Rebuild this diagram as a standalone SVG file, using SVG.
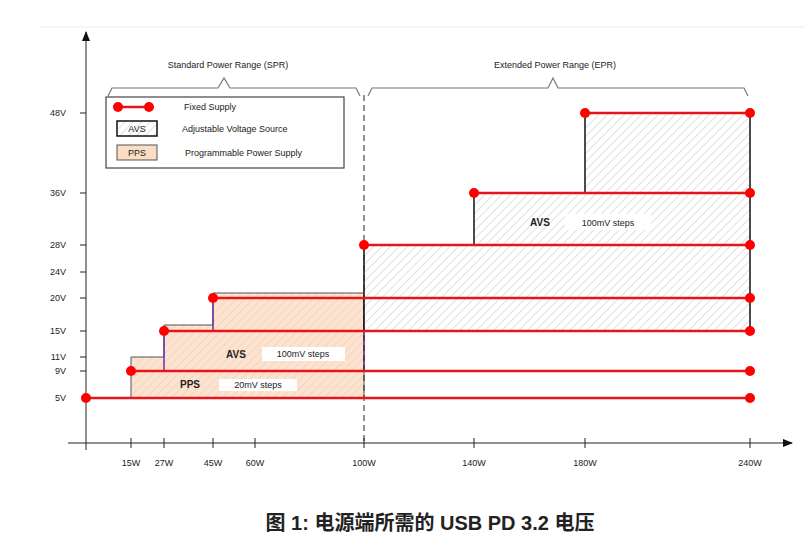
<svg xmlns="http://www.w3.org/2000/svg" width="805" height="553" viewBox="0 0 805 553">
<style>
text{font-family:"Liberation Sans",Arial,sans-serif;fill:#222}
.s{font-size:9px}
.lab{font-size:9px;text-anchor:middle}
.b{font-weight:bold;font-size:10px}
.fx{stroke:#e8141c;stroke-width:2.5;fill:none}
.dot{fill:#f00}
.ax{stroke:#222;stroke-width:1;fill:none}
.br{stroke:#777;stroke-width:1.2;fill:none}
</style>
<defs>
<pattern id="hg" width="6" height="6" patternUnits="userSpaceOnUse" patternTransform="rotate(45)"><rect width="6" height="6" fill="#fff"/><line x1="0" y1="0" x2="0" y2="6" stroke="#ccc" stroke-width="1.2"/></pattern>
<pattern id="ho" width="6" height="6" patternUnits="userSpaceOnUse" patternTransform="rotate(45)"><rect width="6" height="6" fill="#fce3d0"/><line x1="0" y1="0" x2="0" y2="6" stroke="#f0cbb0" stroke-width="1.2"/></pattern>
<marker id="ar" markerWidth="10" markerHeight="10" refX="9" refY="5" orient="auto" markerUnits="userSpaceOnUse"><path d="M0,1 L10,5 L0,9 z" fill="#111"/></marker>
</defs>
<rect width="805" height="553" fill="#fff"/>
<line x1="40" y1="27" x2="805" y2="27" stroke="#eee"/>
<g id="axes">
<line class="ax" x1="86" y1="450" x2="86" y2="32" marker-end="url(#ar)"/>
<line class="ax" x1="68" y1="443" x2="792" y2="443" marker-end="url(#ar)"/>
<g stroke="#222"><line x1="131" y1="438" x2="131" y2="448"/><line x1="164" y1="438" x2="164" y2="448"/><line x1="213" y1="438" x2="213" y2="448"/><line x1="255" y1="438" x2="255" y2="448"/><line x1="364" y1="438" x2="364" y2="448"/><line x1="474" y1="438" x2="474" y2="448"/><line x1="585" y1="438" x2="585" y2="448"/><line x1="750" y1="438" x2="750" y2="448"/>
<line x1="80" y1="113" x2="86" y2="113"/><line x1="80" y1="193" x2="86" y2="193"/><line x1="80" y1="245" x2="86" y2="245"/><line x1="80" y1="272" x2="86" y2="272"/><line x1="80" y1="298" x2="86" y2="298"/><line x1="80" y1="331" x2="86" y2="331"/><line x1="80" y1="357" x2="86" y2="357"/><line x1="80" y1="371" x2="86" y2="371"/></g>
<g class="lab"><text x="131" y="466">15W</text><text x="164" y="466">27W</text><text x="213" y="466">45W</text><text x="255" y="466">60W</text><text x="364" y="466">100W</text><text x="474" y="466">140W</text><text x="585" y="466">180W</text><text x="750" y="466">240W</text></g>
<g class="s" text-anchor="end"><text x="66" y="116">48V</text><text x="66" y="196">36V</text><text x="66" y="248">28V</text><text x="66" y="275">24V</text><text x="66" y="301">20V</text><text x="66" y="334">15V</text><text x="66" y="360">11V</text><text x="66" y="374">9V</text><text x="66" y="401">5V</text></g>
</g>
<g id="braces">
<path class="br" d="M108,96 L112,88 L218,88 L224,78 L230,88 L356,88 L360,96"/>
<path class="br" d="M368,96 L372,88 L548,88 L553,78 L558,88 L744,88 L748,96"/>
<text class="lab" x="228" y="68">Standard Power Range (SPR)</text>
<text class="lab" x="555" y="68">Extended Power Range (EPR)</text>
</g>
<g id="pps">
<path d="M131,398 L131,357 L164,357 L164,325 L213,325 L213,293 L364,293 L364,398 Z" fill="url(#ho)" stroke="#555" stroke-width="1"/>
</g>
<g id="avs-spr">
<path d="M164,371 L164,331 L213,331 L213,298 L364,298 L364,371 Z" fill="none" stroke="#7030a0" stroke-width="1.5"/>
</g>
<g id="avs-epr">
<path d="M364,331 L364,245 L474,245 L474,193 L585,193 L585,113 L750,113 L750,331 Z" fill="url(#hg)" stroke="none"/>
<g stroke="#111" stroke-width="1.5"><line x1="364" y1="245" x2="364" y2="331"/><line x1="474" y1="193" x2="474" y2="245"/><line x1="585" y1="113" x2="585" y2="193"/><line x1="750" y1="113" x2="750" y2="331"/></g>
</g>
<line x1="364" y1="95" x2="364" y2="443" stroke="#222" stroke-dasharray="6,4"/>
<g id="fixed">
<line class="fx" x1="86" y1="398" x2="750" y2="398"/><line class="fx" x1="131" y1="371" x2="750" y2="371"/><line class="fx" x1="164" y1="331" x2="750" y2="331"/><line class="fx" x1="213" y1="298" x2="750" y2="298"/><line class="fx" x1="364" y1="245" x2="750" y2="245"/><line class="fx" x1="474" y1="193" x2="750" y2="193"/><line class="fx" x1="585" y1="113" x2="750" y2="113"/>
<g class="dot"><circle cx="86" cy="398" r="5"/><circle cx="750" cy="398" r="5"/><circle cx="131" cy="371" r="5"/><circle cx="750" cy="371" r="5"/><circle cx="164" cy="331" r="5"/><circle cx="750" cy="331" r="5"/><circle cx="213" cy="298" r="5"/><circle cx="750" cy="298" r="5"/><circle cx="364" cy="245" r="5"/><circle cx="750" cy="245" r="5"/><circle cx="474" cy="193" r="5"/><circle cx="750" cy="193" r="5"/><circle cx="585" cy="113" r="5"/><circle cx="750" cy="113" r="5"/></g>
</g>
<g id="labels">
<text class="b" x="236" y="358" text-anchor="middle">AVS</text>
<rect x="262" y="347" width="83" height="14" fill="#fff"/><text class="s" x="303" y="357" text-anchor="middle">100mV steps</text>
<text class="b" x="190" y="388" text-anchor="middle">PPS</text>
<rect x="219" y="379" width="78" height="12" fill="#fff"/><text class="s" x="258" y="388" text-anchor="middle">20mV steps</text>
<text class="b" x="540" y="226" text-anchor="middle">AVS</text>
<rect x="565" y="214" width="86" height="16" fill="#fff"/><text class="s" x="608" y="226" text-anchor="middle">100mV steps</text>
</g>
<g id="legend">
<rect x="106" y="97" width="238" height="71" fill="#fff" stroke="#444" stroke-width="1.2"/>
<line class="fx" x1="118" y1="107" x2="149" y2="107"/><circle class="dot" cx="118" cy="107" r="5"/><circle class="dot" cx="149" cy="107" r="5"/>
<text class="s" x="184" y="110">Fixed Supply</text>
<rect x="117" y="121" width="40" height="15" fill="url(#hg)" stroke="#111" stroke-width="1.5"/><text class="s" x="137" y="132" text-anchor="middle">AVS</text>
<text class="s" x="182" y="132">Adjustable Voltage Source</text>
<rect x="117" y="145" width="40" height="15" fill="#fbdcc4" stroke="#555"/><text class="s" x="137" y="156" text-anchor="middle">PPS</text>
<text class="s" x="185" y="156">Programmable Power Supply</text>
</g>
<text x="430" y="530" text-anchor="middle" style="font-family:'Liberation Sans','Noto Sans CJK SC',sans-serif;font-size:20px;font-weight:bold">图 1: 电源端所需的 USB PD 3.2 电压</text>
</svg>
